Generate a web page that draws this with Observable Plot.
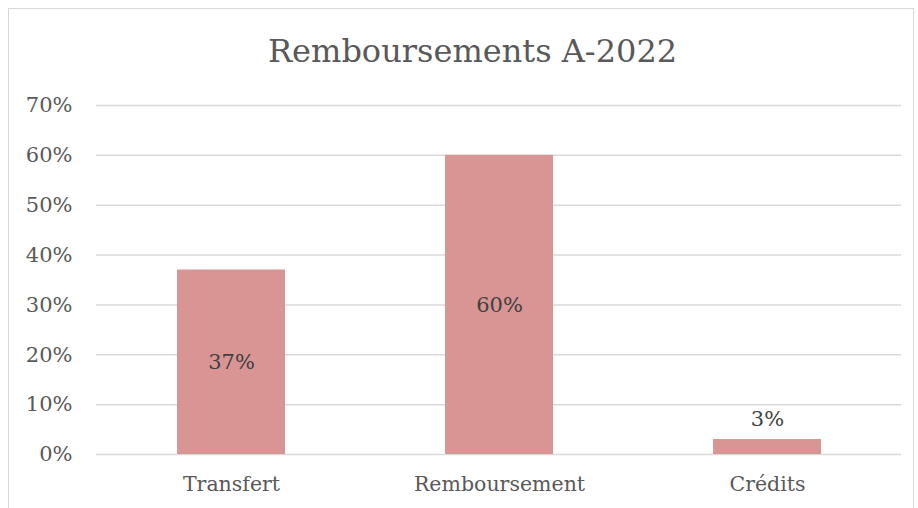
<!DOCTYPE html>
<html>
<head>
<meta charset="utf-8">
<script src="https://cdn.jsdelivr.net/npm/d3@7"></script>
<script src="https://cdn.jsdelivr.net/npm/@observablehq/plot@0.6"></script>
<style>
  html, body { margin: 0; padding: 0; background: #fff; }
  #wrap { position: relative; width: 918px; height: 508px; overflow: hidden; font-family: "DejaVu Serif", serif; color: #595959; }
  #frame { position: absolute; left: 8px; top: 8px; width: 906px; height: 520px; border: 1px solid #d9d9d9; box-sizing: border-box; pointer-events: none; }
  #title { position: relative; height: 90px; box-sizing: border-box; padding-top: 35px; font-size: 32px; line-height: 32px; text-align: left; padding-left: 268px; white-space: nowrap; }
  #chart svg { display: block; }
</style>
</head>
<body>
<div id="wrap">
  <div id="frame"></div>
  <div id="title">Remboursements A-2022</div>
  <div id="chart"></div>
</div>
<script>
const categories = ["Transfert", "Remboursement", "Crédits"];
const values = [0.37, 0.60, 0.03];
const valueLabels = ["37%", "60%", "3%"];
const yTicks = [0, 0.1, 0.2, 0.3, 0.4, 0.5, 0.6, 0.7];

const data = categories.map((c, i) => ({ category: c, value: values[i], label: valueLabels[i] }));
const inside = data.filter(d => d.value >= 0.1);
const outside = data.filter(d => d.value < 0.1);

const chart = Plot.plot({
  width: 918,
  height: 418,
  marginTop: 15,
  marginBottom: 54,
  marginLeft: 96,
  marginRight: 17,
  style: { fontFamily: "DejaVu Serif, serif", color: "#595959", background: "white", overflow: "visible" },
  x: { domain: categories, paddingInner: 0.5975, paddingOuter: 0.29875, label: null },
  y: { domain: [0, 0.7], label: null },
  marks: [
    Plot.ruleY(yTicks, { stroke: "#d9d9d9", strokeWidth: 1.5 }),
    Plot.barY(data, { x: "category", y: "value", fill: "#d99594" }),
    Plot.axisY(yTicks, { tickSize: 0, tickPadding: 24, tickFormat: d3.format(".0%"), fontSize: 21, label: null, fill: "#595959" }),
    Plot.axisX({ tickSize: 0, tickPadding: 22, fontSize: 20.5, label: null, fill: "#595959" }),
    Plot.text(inside, { x: "category", y: d => d.value / 2, text: "label", fontSize: 21, fill: "#404040" }),
    Plot.text(outside, { x: "category", y: "value", text: "label", fontSize: 21, fill: "#404040", dy: -20 })
  ]
});
document.getElementById("chart").appendChild(chart);
</script>
</body>
</html>
